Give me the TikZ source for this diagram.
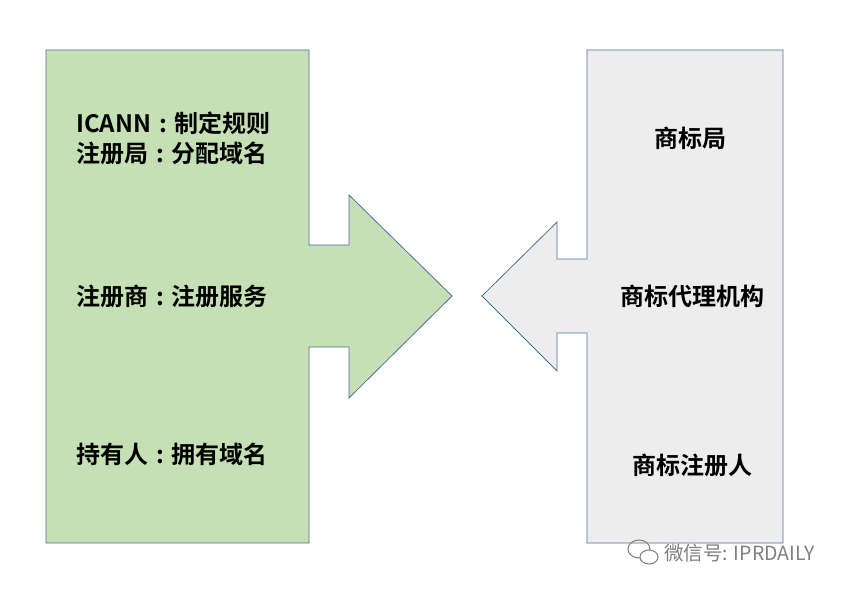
\documentclass[tikz,border=0pt]{standalone}
\usepackage{fontspec}
\setmainfont{Noto Sans CJK SC}[BoldFont={* Bold}]
\newfontfamily\wm{Noto Sans CJK SC}
\definecolor{edge}{RGB}{79,110,160}
\newcommand{\cln}{\hspace{8pt}:\hspace{8pt}}
\begin{document}
\begin{tikzpicture}[x=1pt,y=-1pt,
  lbl/.style={font=\fontsize{24}{30}\selectfont\bfseries,inner sep=0pt,align=left},
  shp/.style={draw=edge,line width=0.8pt}]
\useasboundingbox (0,0) rectangle (853,593);
\fill[white] (0,0) rectangle (853,593);
\draw[shp,fill={rgb,255:red,197;green,224;blue,180}]
  (46,50) -- (309,50) -- (309,245) -- (349,245) -- (349,195) -- (452,296) -- (349,398) -- (349,347) -- (309,347) -- (309,543) -- (46,543) -- cycle;
\draw[shp,fill={rgb,255:red,237;green,237;blue,237}]
  (587,50) -- (783,50) -- (783,543) -- (587,543) -- (587,333) -- (557,333) -- (557,371) -- (482,296) -- (557,222) -- (557,259) -- (587,259) -- cycle;
\node[lbl,anchor=west] (a) at (76,138) {ICANN\cln 制定规则\\注册局\cln 分配域名};
\node[lbl,anchor=west] (b) at (76,296) {注册商\cln 注册服务};
\node[lbl,anchor=west] (c) at (76,454) {持有人\cln 拥有域名};
\node[lbl] (d) at (690,138) {商标局};
\node[lbl] (e) at (692,296) {商标代理机构};
\node[lbl] (f) at (692,465) {商标注册人};
\node[font=\wm\fontsize{19.5}{22}\selectfont,text=gray,anchor=west,inner sep=0pt] (w) at (664,553) {微信号: IPRDAILY};
\draw[gray,line width=1pt] (639,549) ellipse (11 and 9);
\draw[gray,line width=1pt,fill=white] (649,557) ellipse (9 and 7);
\end{tikzpicture}
\end{document}
